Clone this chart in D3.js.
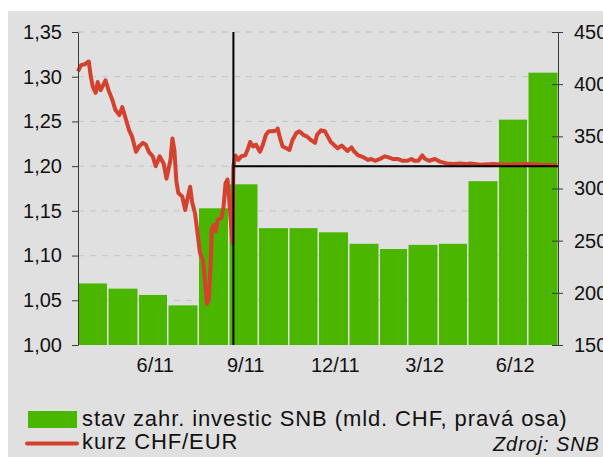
<!DOCTYPE html>
<html>
<head>
<meta charset="utf-8">
<script src="https://cdn.jsdelivr.net/npm/d3@7"></script>
<style>
  body { margin: 0; background: #fff; }
  svg { display: block; font-family: "Liberation Sans", Arial, sans-serif; }
</style>
</head>
<body>
<div id="canvas"></div>
<script>
// months of the SNB bars and their values (bn CHF, right axis)
var months = ["2011-04","2011-05","2011-06","2011-07","2011-08","2011-09","2011-10","2011-11",
              "2011-12","2012-01","2012-02","2012-03","2012-04","2012-05","2012-06","2012-07"];
var reserves = [209, 204, 198, 188, 281, 304, 262, 262, 258, 247, 242, 246, 247, 307, 366, 411];

// CHF/EUR rate (left axis)
var rateDates = ["2011-04-01","2011-04-04","2011-04-08","2011-04-12","2011-04-14","2011-04-16","2011-04-19",
  "2011-04-21","2011-04-24","2011-04-29","2011-05-02","2011-05-06","2011-05-09","2011-05-13","2011-05-16",
  "2011-05-19","2011-05-23","2011-05-26","2011-05-30","2011-06-02","2011-06-06","2011-06-09","2011-06-12",
  "2011-06-16","2011-06-19","2011-06-23","2011-06-27","2011-06-30","2011-07-04","2011-07-06","2011-07-08",
  "2011-07-10","2011-07-12","2011-07-16","2011-07-19","2011-07-21","2011-07-24","2011-07-26","2011-07-29",
  "2011-08-01","2011-08-03","2011-08-06","2011-08-08","2011-08-10","2011-08-12","2011-08-14","2011-08-15",
  "2011-08-17","2011-08-19","2011-08-21","2011-08-25","2011-08-27","2011-08-29","2011-08-31","2011-09-02",
  "2011-09-05","2011-09-06","2011-09-08","2011-09-11","2011-09-14","2011-09-18","2011-09-21","2011-09-23",
  "2011-09-26","2011-09-29","2011-10-03","2011-10-06","2011-10-09","2011-10-12","2011-10-16","2011-10-20",
  "2011-10-21","2011-10-24","2011-10-26","2011-10-30","2011-11-02","2011-11-05","2011-11-09","2011-11-12",
  "2011-11-16","2011-11-20","2011-11-24","2011-11-28","2011-11-30","2011-12-04","2011-12-08","2011-12-11",
  "2011-12-14","2011-12-19","2011-12-21","2011-12-25","2011-12-28","2011-12-31","2012-01-04","2012-01-07",
  "2012-01-11","2012-01-16","2012-01-21","2012-01-24","2012-01-28","2012-02-02","2012-02-07","2012-02-10",
  "2012-02-15","2012-02-20","2012-02-25","2012-03-01","2012-03-05","2012-03-08","2012-03-12","2012-03-16",
  "2012-03-19","2012-03-23","2012-03-29","2012-04-03","2012-04-10","2012-04-17","2012-04-23","2012-04-30",
  "2012-05-04","2012-05-14","2012-05-27","2012-06-11","2012-06-30","2012-07-14","2012-07-31"];
var rateValues = [1.306,1.313,1.314,1.317,1.300,1.289,1.282,
  1.294,1.285,1.296,1.285,1.274,1.263,1.257,1.266,
  1.255,1.240,1.233,1.216,1.222,1.226,1.224,1.216,
  1.211,1.200,1.211,1.203,1.186,1.207,1.231,1.218,
  1.183,1.170,1.166,1.151,1.162,1.177,1.160,1.147,
  1.121,1.103,1.095,1.073,1.046,1.050,1.095,1.129,
  1.134,1.127,1.140,1.142,1.155,1.181,1.185,1.158,
  1.114,1.200,1.212,1.207,1.211,1.212,1.220,1.227,
  1.222,1.224,1.216,1.224,1.235,1.239,1.239,1.240,
  1.242,1.229,1.222,1.220,1.218,1.229,1.237,1.239,
  1.235,1.233,1.229,1.226,1.235,1.240,1.239,1.233,
  1.227,1.222,1.220,1.223,1.220,1.217,1.221,1.216,
  1.212,1.210,1.207,1.208,1.206,1.208,1.211,1.210,
  1.208,1.208,1.206,1.206,1.208,1.206,1.206,1.212,
  1.208,1.206,1.208,1.205,1.203,1.2025,1.203,1.2025,
  1.203,1.2015,1.2025,1.2015,1.2025,1.2015,1.201];

// SNB floor: 6.9.2011 at 1.20
var floorDate = "2011-09-06";
var floorValue = 1.20;

var leftTicks = [1.00, 1.05, 1.10, 1.15, 1.20, 1.25, 1.30, 1.35];
var rightTicks = [150, 200, 250, 300, 350, 400, 450];
var xTickDates = ["2011-06-18","2011-09-18","2011-12-18","2012-03-18","2012-06-18"];

var legendLabels = ["stav zahr. investic SNB (mld. CHF, pravá osa)", "kurz CHF/EUR"];
var sourceLabel = "Zdroj: SNB";

var W = 603, H = 457;
var m = {t:32, r:45, b:112, l:78};
var green = "#4bb600", red = "#d5412f";

var parse = d3.timeParse("%Y-%m-%d");
var parseMonth = d3.timeParse("%Y-%m");

var svg = d3.select("#canvas").append("svg")
  .attr("width", W).attr("height", H);

// grey panel
svg.append("rect").attr("x", 8).attr("y", 11)
  .attr("width", W - 8).attr("height", H - 11).attr("fill", "#e0e0e0");

var x = d3.scaleTime()
  .domain([parse("2011-04-01"), parse("2012-08-01")])
  .range([m.l, W - m.r]);
var yL = d3.scaleLinear().domain([1.00, 1.35]).range([H - m.b, m.t]);
var yR = d3.scaleLinear().domain([150, 450]).range([H - m.b, m.t]);

// dashed grid
svg.append("g").selectAll("line")
  .data(leftTicks.slice(1))
  .enter().append("line")
  .attr("x1", m.l).attr("x2", W - m.r)
  .attr("y1", function(d){ return yL(d); })
  .attr("y2", function(d){ return yL(d); })
  .attr("stroke", "#c9c9c9").attr("stroke-width", 1.3)
  .attr("stroke-dasharray", "6,6");

// bars
svg.append("g").selectAll("rect")
  .data(months)
  .enter().append("rect")
  .attr("x", function(d){ return x(parseMonth(d)) + 1; })
  .attr("width", function(d){
    var s = parseMonth(d);
    return x(d3.timeMonth.offset(s, 1)) - x(s) - 1.5;
  })
  .attr("y", function(d, i){ return yR(reserves[i]); })
  .attr("height", function(d, i){ return yR(150) - yR(reserves[i]); })
  .attr("fill", green);

// rate line
var rate = rateDates.map(function(d, i){ return [parse(d), rateValues[i]]; });
var line = d3.line()
  .x(function(d){ return x(d[0]); })
  .y(function(d){ return yL(d[1]); });

svg.append("path")
  .datum(rate)
  .attr("d", line)
  .attr("fill", "none")
  .attr("stroke", red)
  .attr("stroke-width", 4)
  .attr("stroke-linejoin", "round");

// floor lines
var fx = x(parse(floorDate));
svg.append("line")
  .attr("x1", fx).attr("x2", fx)
  .attr("y1", yL(1.35)).attr("y2", yL(1.00))
  .attr("stroke", "#000").attr("stroke-width", 2);
svg.append("line")
  .attr("x1", fx).attr("x2", W - m.r)
  .attr("y1", yL(floorValue)).attr("y2", yL(floorValue))
  .attr("stroke", "#000").attr("stroke-width", 2);

// axes
var fmt = function(d){ return d3.format(".2f")(d).replace(".", ","); };

var axisL = svg.append("g")
  .attr("transform", "translate(" + m.l + ",0)")
  .call(d3.axisLeft(yL).tickValues(leftTicks).tickFormat(fmt)
    .tickSize(6).tickSizeOuter(0).tickPadding(10));

var axisR = svg.append("g")
  .attr("transform", "translate(" + (W - m.r) + ",0)")
  .call(d3.axisRight(yR).tickValues(rightTicks)
    .tickSize(5).tickSizeOuter(0).tickPadding(11));
axisR.selectAll(".tick line").attr("x1", -6);

var axisX = svg.append("g")
  .attr("transform", "translate(0," + (H - m.b) + ")")
  .call(d3.axisBottom(x).tickValues(xTickDates.map(parse))
    .tickFormat(d3.timeFormat("%-m/%y")).tickSize(0).tickPadding(13));
axisX.select(".domain").remove();

[axisL, axisR, axisX].forEach(function(g){
  g.selectAll("text").attr("font-size", 20).attr("fill", "#111")
    .attr("font-family", "Liberation Sans, Arial, sans-serif");
  g.selectAll("line, path").attr("stroke", "#3a3a3a");
});

// legend
svg.append("rect").attr("x", 28).attr("y", 411)
  .attr("width", 49).attr("height", 17).attr("fill", green);
svg.append("line").attr("x1", 27).attr("x2", 77)
  .attr("y1", 443.5).attr("y2", 443.5)
  .attr("stroke", red).attr("stroke-width", 4).attr("stroke-linecap", "round");

svg.selectAll(".leg")
  .data(legendLabels)
  .enter().append("text")
  .attr("class", "leg")
  .attr("x", 82)
  .attr("y", function(d, i){ return 426 + i * 23; })
  .attr("font-size", 22)
  .attr("letter-spacing", 0.9)
  .attr("fill", "#111")
  .text(function(d){ return d; });

svg.append("text")
  .attr("x", 493).attr("y", 451)
  .attr("font-size", 20)
  .attr("font-style", "italic")
  .attr("letter-spacing", 0.9)
  .attr("fill", "#111")
  .text(sourceLabel);
</script>
</body>
</html>
